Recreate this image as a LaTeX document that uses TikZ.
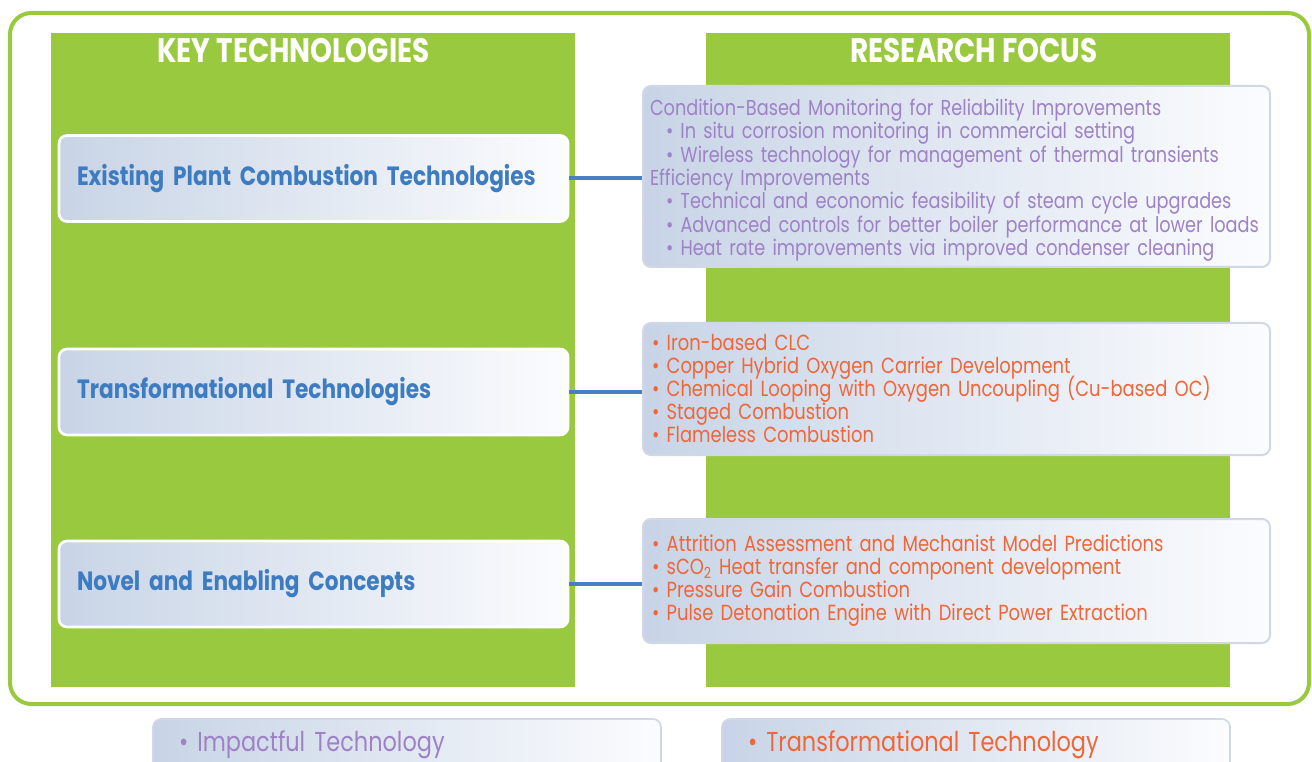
\documentclass[tikz,border=0pt]{standalone}
\usepackage{fontspec}
\setmainfont{Poppins}[FakeStretch=0.82]
\definecolor{leaf}{RGB}{153,201,62}
\definecolor{boxL}{RGB}{200,212,230}
\definecolor{boxR}{RGB}{251,252,254}
\definecolor{boxline}{RGB}{208,216,232}
\definecolor{bluetxt}{RGB}{62,124,194}
\definecolor{conncol}{RGB}{74,127,193}
\definecolor{purp}{RGB}{158,130,198}
\definecolor{redtxt}{RGB}{240,102,56}
\newcommand\indb{\hspace*{12pt}\textbullet\ }
\newcommand\rb{\hspace*{1.5pt}\textbullet\ }
\newcommand\firststrut[1]{\rule{0pt}{#1}}
\begin{document}
\begin{tikzpicture}[x=0.75pt,y=-0.75pt,
  keybox/.style={rounded corners=6pt, draw=white, line width=2pt,
    left color=boxL, right color=boxR, inner xsep=13.5pt, inner ysep=0pt,
    text width={473*0.75pt}, minimum height={86*0.75pt}, align=left,
    text=bluetxt, font=\bfseries\fontsize{19.8}{24}\selectfont},
  focusbox/.style={rounded corners=6pt, draw=boxline, line width=1.5pt,
    left color=boxL, right color=boxR, inner xsep=5.25pt, inner ysep=0pt,
    text width={613*0.75pt}, align=left},
  purptext/.style={text=purp, font=\fontsize{16.2}{17.5}\selectfont},
  redstyle/.style={text=redtxt, font=\fontsize{16.4}{17.25}\selectfont},
  legbox/.style={rounded corners=6pt, draw=boxline, line width=1.2pt,
    left color=boxL, right color=boxR, inner xsep=19.5pt, inner ysep=0pt,
    text width={456*0.75pt}, minimum height={52*0.75pt}, align=left,
    font=\fontsize{20.5}{24}\selectfont},
  head/.style={text=white, font=\bfseries\fontsize{25.5}{30}\selectfont},
  conn/.style={draw=conncol, line width=3pt}]
\useasboundingbox (0,0) rectangle (1312,762);
\clip (0,0) rectangle (1312,762);
% outer frame
\draw[leaf, line width=3pt, rounded corners=16pt] (10,13) rectangle (1309,704);
% columns
\fill[leaf] (51,33) rectangle (575,687);
\fill[leaf] (706,33) rectangle (1230,687);
% headers
\node[head] (h1) at (293.5,51) {KEY TECHNOLOGIES};
\node[head] (h2) at (974,51) {RESEARCH FOCUS};
% key technology boxes
\node[keybox] (l1) at (313.5,178.5) {Existing Plant Combustion Technologies};
\node[keybox] (l2) at (313.5,392) {Transformational Technologies};
\node[keybox] (l3) at (313.5,584) {Novel and Enabling Concepts};
% research focus boxes
\node[focusbox, purptext, minimum height={181*0.75pt}] (r1) at (956.5,176.5) {%
\firststrut{18pt}Condition-Based Monitoring for Reliability Improvements\\
\indb In situ corrosion monitoring in commercial setting\\
\indb Wireless technology for management of thermal transients\\
Efficiency Improvements\\
\indb Technical and economic feasibility of steam cycle upgrades\\
\indb Advanced controls for better boiler performance at lower loads\\
\indb Heat rate improvements via improved condenser cleaning};
\node[focusbox, redstyle, minimum height={132*0.75pt}] (r2) at (956.5,389) {%
\rb Iron-based CLC\\
\rb Copper Hybrid Oxygen Carrier Development\\
\rb \smash{Chemical Looping with Oxygen Uncoupling (Cu-based OC)}\\
\rb Staged Combustion\\
\rb Flameless Combustion};
\node[focusbox, redstyle, minimum height={124*0.75pt}] (r3) at (956.5,581) {%
\rb Attrition Assessment and Mechanist Model Predictions\\
\rb sCO\textsubscript{2} Heat transfer and component development\\
\rb Pressure Gain Combustion\\
\rb Pulse Detonation Engine with Direct Power Extraction};
% connectors
\draw[conn] (l1.east) -- (l1.east -| r1.west);
\draw[conn] (l2.east) -- (l2.east -| r2.west);
\draw[conn] (l3.east) -- (l3.east -| r3.west);
% legend
\node[legbox, text=purp] (g1) at (407,745) {\textbullet\ Impactful Technology};
\node[legbox, text=redtxt] (g2) at (976,745) {\textbullet\ Transformational Technology};
\end{tikzpicture}
\end{document}
